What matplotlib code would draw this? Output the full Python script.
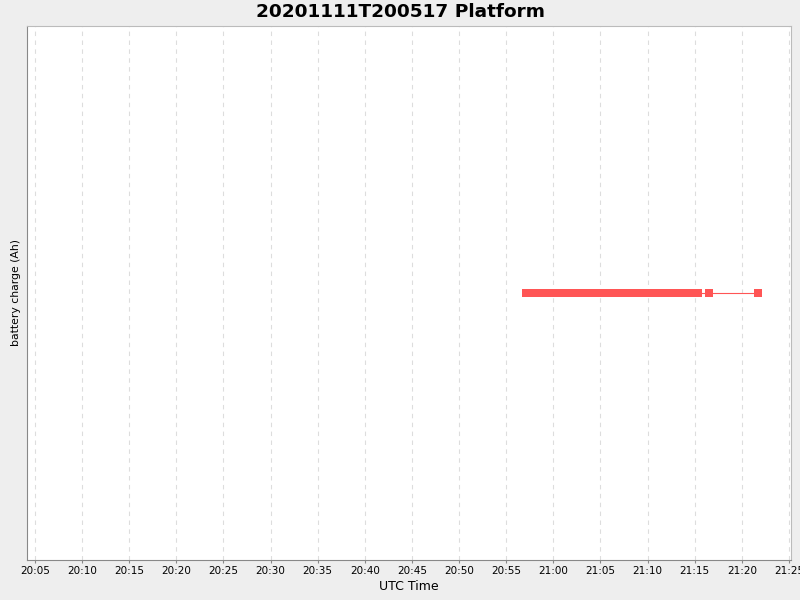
import matplotlib
matplotlib.use('Agg')
import matplotlib.pyplot as plt
import matplotlib.dates as mdates
from datetime import datetime

# sample times (UTC) and battery charge readings
times = [
	"20:57:06", "20:57:36", "20:58:06", "20:58:36", "20:59:06", "20:59:36",
	"21:00:06", "21:00:36", "21:01:06", "21:01:36", "21:02:06", "21:02:36",
	"21:03:06", "21:03:36", "21:04:06", "21:04:36", "21:05:06", "21:05:36",
	"21:06:06", "21:06:36", "21:07:06", "21:07:36", "21:08:06", "21:08:36",
	"21:09:06", "21:09:36", "21:10:06", "21:10:36", "21:11:06", "21:11:36",
	"21:12:06", "21:12:36", "21:13:06", "21:13:36", "21:14:06", "21:14:36",
	"21:15:06", "21:15:22", "21:16:32", "21:21:44",
]
charge = [0.0] * len(times)

day = "2020-11-11 "
t = [datetime.strptime(day + s, "%Y-%m-%d %H:%M:%S") for s in times]

fig = plt.figure(figsize=(8, 6), dpi=100, facecolor='#eeeeee')
ax = fig.add_axes([27 / 800, 40 / 600, 764 / 800, 534 / 600])
ax.set_facecolor('white')

ax.plot(t, charge, color='#ff5555', linewidth=0.8, marker='s',
	markersize=5.6, markeredgewidth=0, markerfacecolor='#ff5555')

ax.set_xlim(datetime(2020, 11, 11, 20, 4, 9), datetime(2020, 11, 11, 21, 25, 13))
ax.set_ylim(-1, 1)

ax.xaxis.set_major_locator(mdates.MinuteLocator(byminute=range(0, 60, 5)))
ax.xaxis.set_major_formatter(mdates.DateFormatter('%H:%M'))
ax.set_yticks([])
ax.grid(True, axis='x', linestyle=(0, (4, 4)), color='#dddddd', linewidth=0.8)

for side in ['left', 'bottom']:
	ax.spines[side].set_color('#888888')
for side in ['top', 'right']:
	ax.spines[side].set_color('#bbbbbb')

ax.tick_params(axis='x', labelsize=7.5, length=2, color='#888888', pad=2)
ax.set_xlabel('UTC Time', fontsize=9, labelpad=3)
ax.set_ylabel('battery charge (Ah)', fontsize=7.8, labelpad=4)
fig.text(0.5, 0.98, '20201111T200517 Platform', fontsize=13.3,
	fontweight='bold', ha='center', va='center')

fig.savefig('out.png', dpi=100, facecolor=fig.get_facecolor())
